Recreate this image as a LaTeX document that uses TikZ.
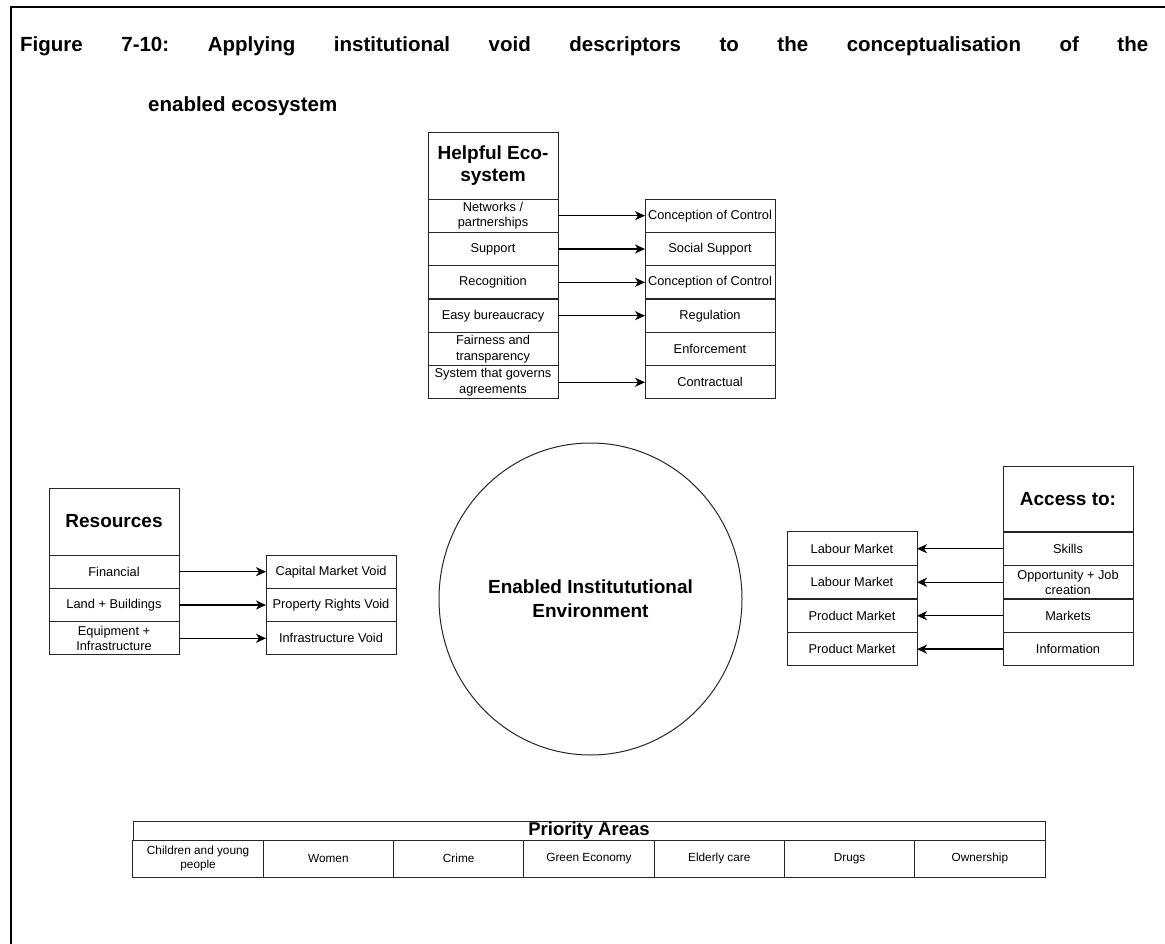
\documentclass[tikz,border=0pt]{standalone}
\usepackage{fontspec}
\setmainfont{Liberation Sans}
\usetikzlibrary{arrows.meta,shapes.geometric}
\tikzset{
  cell/.style={draw=black!85, line width=1pt, minimum width=130pt, minimum height=33.3pt,
    inner sep=0pt, outer sep=0pt, align=center, font=\fontsize{12.8}{15.5}\selectfont},
  headbox/.style={cell, minimum height=66.7pt, font=\fontsize{19}{22}\bfseries\selectfont},
  tcell/.style={draw=black!85, line width=1pt, minimum width=130.29pt, minimum height=37pt,
    inner sep=0pt, outer sep=0pt, align=center, font=\fontsize{11.8}{14}\selectfont},
  conn/.style={line width=1.5pt, -{Stealth[length=10pt,width=9pt,inset=3pt]}},
  frame/.style={line width=2.8pt}
}
\frenchspacing
\begin{document}
\begin{tikzpicture}[x=1pt,y=-1pt]
\useasboundingbox (0,0) rectangle (1165,944);
% frame
\coordinate (fl) at (11,944);
\coordinate (fc) at (11,7);
\coordinate (fr) at (1165,7);
\draw[frame] (fl) -- (fc) -- (fr);
% title
\node[anchor=base west, inner sep=0pt, font=\fontsize{20.5}{24}\bfseries\selectfont] (t1) at (20,52)
  {\makebox[1128pt][s]{Figure 7-10: Applying institutional void descriptors to the conceptualisation of the}};
\node[anchor=base west, inner sep=0pt, font=\fontsize{20.5}{24}\bfseries\selectfont] (t2) at (148,112)
  {enabled ecosystem};

% Helpful Eco-system
\node[headbox] (he) at (493,165.7) {Helpful Eco-\\system};
\node[cell] (h1) at (493,215.7) {Networks /\\partnerships};
\node[cell] (h2) at (493,249) {Support};
\node[cell] (h3) at (493,282.3) {Recognition};
\node[cell] (h4) at (493,315.7) {Easy bureaucracy};
\node[cell] (h5) at (493,349) {Fairness and\\transparency};
\node[cell] (h6) at (493,382.3) {System that governs\\agreements};
\node[cell] (r1) at (710,215.7) {Conception of Control};
\node[cell] (r2) at (710,249) {Social Support};
\node[cell] (r3) at (710,282.3) {Conception of Control};
\node[cell] (r4) at (710,315.7) {Regulation};
\node[cell] (r5) at (710,349) {Enforcement};
\node[cell] (r6) at (710,382.3) {Contractual};
\draw[conn] (h1) -- (r1);
\draw[conn] (h2) -- (r2);
\draw[conn] (h3) -- (r3);
\draw[conn] (h4) -- (r4);
\draw[conn] (h6) -- (r6);

% Resources
\node[headbox, minimum height=67pt] (rs) at (114,521.5) {Resources};
\node[cell] (s1) at (114,571.7) {Financial};
\node[cell] (s2) at (114,605) {Land + Buildings};
\node[cell] (s3) at (114,638.3) {Equipment +\\Infrastructure};
\node[cell] (v1) at (331,571.7) {Capital Market Void};
\node[cell] (v2) at (331,605) {Property Rights Void};
\node[cell] (v3) at (331,638.3) {Infrastructure Void};
\draw[conn] (s1) -- (v1);
\draw[conn] (s2) -- (v2);
\draw[conn] (s3) -- (v3);

% Access to
\node[headbox, minimum height=66pt] (ac) at (1068,499) {\raisebox{-4pt}{Access to:}};
\node[cell, minimum height=33.5pt] (a1) at (1068,548.7) {Skills};
\node[cell, minimum height=33.5pt] (a2) at (1068,582.3) {Opportunity + Job\\creation};
\node[cell, minimum height=33.5pt] (a3) at (1068,615.7) {Markets};
\node[cell, minimum height=33.5pt] (a4) at (1068,649.2) {Information};
\node[cell, minimum height=33.5pt] (m1) at (852,548.7) {Labour Market};
\node[cell, minimum height=33.5pt] (m2) at (852,582.3) {Labour Market};
\node[cell, minimum height=33.5pt] (m3) at (852,615.7) {Product Market};
\node[cell, minimum height=33.5pt] (m4) at (852,649.2) {Product Market};
\draw[conn] (a1) -- (m1);
\draw[conn] (a2) -- (m2);
\draw[conn] (a3) -- (m3);
\draw[conn] (a4) -- (m4);

% centre
\node[draw=black!85, line width=1pt, ellipse, minimum width=303pt, minimum height=312pt, inner sep=0pt,
  align=center, font=\fontsize{19}{24}\bfseries\selectfont] (env) at (590.5,599)
  {Enabled Institututional\\Environment};

% Priority Areas
\node[draw=black!85, line width=1pt, minimum width=912pt, minimum height=19pt, inner sep=0pt,
  font=\fontsize{18.5}{20}\bfseries\selectfont] (pa) at (589,830.5) {Priority Areas};
\node[tcell] (p1) at (198.1,858.5) {\raisebox{-2pt}{\shortstack{Children and young\\people}}};
\node[tcell] (p2) at (328.4,858.5) {\raisebox{-2pt}{Women}};
\node[tcell] (p3) at (458.7,858.5) {\raisebox{-2pt}{Crime}};
\node[tcell] (p4) at (589,858.5) {\raisebox{-2pt}{Green Economy}};
\node[tcell] (p5) at (719.3,858.5) {\raisebox{-2pt}{Elderly care}};
\node[tcell] (p6) at (849.6,858.5) {\raisebox{-2pt}{Drugs}};
\node[tcell] (p7) at (979.9,858.5) {\raisebox{-2pt}{Ownership}};
\end{tikzpicture}
\end{document}
